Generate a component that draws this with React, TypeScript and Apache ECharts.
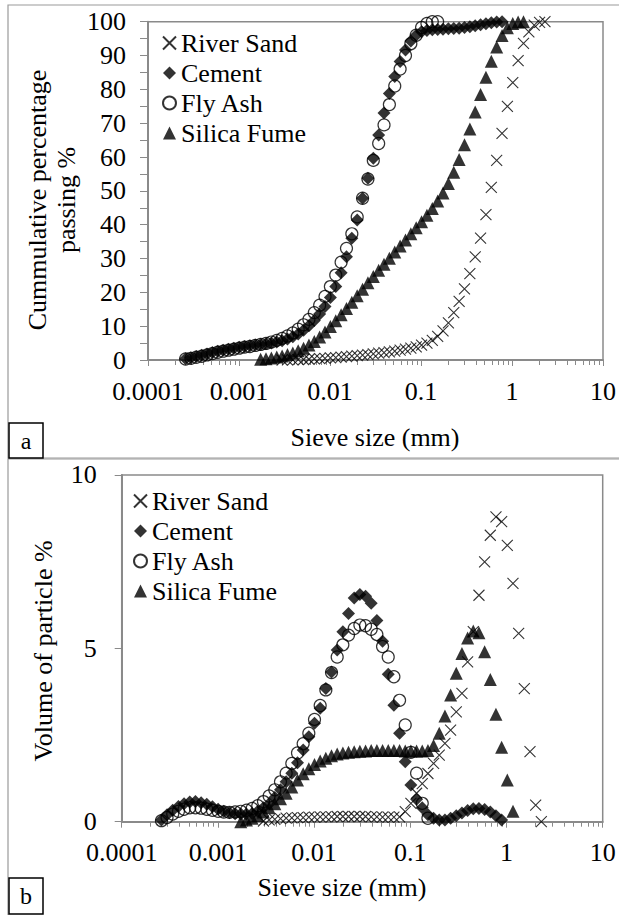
import React, { useEffect, useRef } from "react";
import * as echarts from "echarts";

// Particle sizes (mm) of the analyser channels
const SIZES_MM = [
  0.000259, 0.000296, 0.000339, 0.000389, 0.000445, 0.00051, 0.000584, 0.000669, 0.000766, 0.000877,
  0.001005, 0.001151, 0.001318, 0.00151, 0.001729, 0.001981, 0.002269, 0.002599, 0.002976, 0.003409,
  0.003905, 0.004472, 0.005122, 0.005867, 0.00672, 0.007697, 0.008816, 0.010097, 0.011565, 0.013246,
  0.015172, 0.017377, 0.019904, 0.022797, 0.026111, 0.029907, 0.034255, 0.039234, 0.044938, 0.051471,
  0.058953, 0.067523, 0.077339, 0.088583, 0.10146, 0.11621, 0.133103, 0.152453, 0.174616, 0.2,
  0.229075, 0.262376, 0.300518, 0.344206, 0.394244, 0.451556, 0.5172, 0.592387, 0.678504, 0.777141,
  0.890116, 1.0195, 1.1677, 1.3375, 1.5319, 1.7547, 2.0096, 2.3018,
];

const X_TICK_LABELS = ["0.0001", "0.001", "0.01", "0.1", "1", "10"];
const SERIES_NAMES = ["River Sand", "Cement", "Fly Ash", "Silica Fume"];

// ---- Panel a: cumulative percentage passing (%) ----
const SAND_CUM_START = 18;
const sandCumulative = [
  0, 0.01, 0.03, 0.08, 0.15, 0.22, 0.3, 0.4, 0.5, 0.6,
  0.7, 0.85, 1.0, 1.15, 1.3, 1.45, 1.6, 1.8, 2.0, 2.2,
  2.4, 2.6, 2.9, 3.2, 3.5, 3.9, 4.4, 5.0, 5.8, 7.0,
  8.6, 11.0, 14.0, 17.3, 21.0, 25.5, 30.5, 36.0, 43.0, 51.0,
  59.0, 67.0, 75.0, 82.0, 88.5, 93.6, 97.0, 99.0, 99.8, 100,
];
const CEMENT_CUM_START = 0;
const cementCumulative = [
  0.4, 0.7, 1.0, 1.4, 1.8, 2.2, 2.6, 2.9, 3.2, 3.5,
  3.8, 4.0, 4.2, 4.4, 4.6, 4.8, 5.0, 5.3, 5.7, 6.2,
  6.9, 7.7, 8.8, 10.1, 11.7, 13.6, 15.8, 18.5, 21.7, 25.8,
  30.5, 36.0, 41.4, 47.8, 53.7, 59.6, 66.5, 73.0, 78.8, 83.8,
  88.2, 91.6, 94.3, 96.0, 97.0, 97.4, 97.6, 97.7, 97.8, 97.9,
  98.0, 98.1, 98.3, 98.5, 98.8, 99.1, 99.4, 99.7, 99.9, 100,
];
const FLYASH_CUM_START = 0;
const flyAshCumulative = [
  0.3, 0.5, 0.8, 1.1, 1.5, 1.9, 2.3, 2.6, 2.9, 3.2,
  3.5, 3.8, 4.0, 4.3, 4.6, 4.9, 5.3, 5.8, 6.4, 7.1,
  8.0, 9.1, 10.4, 12.0, 14.0, 16.2, 18.8, 21.7, 25.1, 28.9,
  33.0, 37.3, 42.3, 47.8, 53.5, 59.0, 64.0, 69.5, 75.5, 81.0,
  86.0, 90.0, 93.5, 96.0, 98.3, 99.5, 100, 100,
];
const SILICA_CUM_START = 14;
const silicaCumulative = [
  0.2, 0.4, 0.6, 0.9, 1.2, 1.6, 2.1, 2.7, 3.5, 4.4,
  5.5, 6.8, 8.3, 9.9, 11.6, 13.4, 15.2, 17.1, 19.0, 20.9,
  22.8, 24.7, 26.5, 28.3, 30.1, 31.9, 33.7, 35.5, 37.3, 39.1,
  40.9, 42.8, 44.8, 47.0, 49.4, 52.2, 55.5, 59.3, 63.6, 68.3,
  73.3, 78.5, 83.6, 88.3, 92.5, 95.9, 98.2, 99.5, 99.9, 100,
];

// ---- Panel b: volume of particle (%) ----
const SAND_VOL_START = 18;
const sandVolume = [
  0.02, 0.05, 0.07, 0.09, 0.1, 0.11, 0.12, 0.12, 0.13, 0.13,
  0.14, 0.14, 0.14, 0.15, 0.15, 0.15, 0.15, 0.15, 0.15, 0.14,
  0.14, 0.13, 0.13, 0.13, 0.14, 0.29, 0.53, 0.82, 1.1, 1.39,
  1.68, 1.92, 2.26, 2.64, 3.17, 3.7, 4.61, 5.48, 6.53, 7.49,
  8.26, 8.79, 8.65, 7.97, 6.87, 5.43, 3.84, 2.02, 0.48, 0,
];
const CEMENT_VOL_START = 0;
const cementVolume = [
  0.05, 0.2, 0.33, 0.44, 0.52, 0.57, 0.58, 0.55, 0.5, 0.43,
  0.36, 0.3, 0.26, 0.23, 0.22, 0.22, 0.24, 0.3, 0.4, 0.52,
  0.7, 0.92, 1.15, 1.4, 1.7, 2.07, 2.45, 2.84, 3.27, 3.84,
  4.32, 4.95, 5.48, 6.0, 6.45, 6.55, 6.5, 6.3, 5.8, 5.2,
  4.25, 3.36, 2.55, 1.73, 1.06, 0.65, 0.4, 0.2, 0.1, 0.05,
  0.05, 0.1, 0.17, 0.25, 0.32, 0.37, 0.38, 0.35, 0.28, 0.17, 0.05,
];
const FLYASH_VOL_START = 0;
const flyAshVolume = [
  0.03, 0.12, 0.22, 0.3, 0.36, 0.4, 0.4, 0.39, 0.36, 0.33,
  0.3, 0.28, 0.27, 0.28, 0.3, 0.33, 0.38, 0.46, 0.58, 0.74,
  0.92, 1.15, 1.4, 1.68, 1.98, 2.25, 2.55, 2.95, 3.35, 3.8,
  4.3, 4.75, 5.1, 5.38, 5.57, 5.67, 5.65, 5.55, 5.4, 5.05,
  4.75, 4.18, 3.5, 2.79, 2.0, 1.4, 0.53, 0.1,
];
const SILICA_VOL_START = 14;
const silicaVolume = [
  0, 0.05, 0.1, 0.18, 0.28, 0.4, 0.52, 0.66, 0.82, 1.0,
  1.2, 1.38, 1.53, 1.65, 1.75, 1.83, 1.9, 1.95, 1.98, 2.0,
  2.02, 2.03, 2.04, 2.05, 2.05, 2.05, 2.05, 2.05, 2.05, 2.04,
  2.04, 2.04, 2.04, 2.05, 2.2, 2.55, 3.05, 3.65, 4.28, 4.85,
  5.3, 5.5, 5.45, 4.9, 4.1, 3.1, 2.15, 1.2, 0.3,
];

const FONT = "Liberation Serif";
const AXIS_GREY = "#8a8a8a";

function pairs(values: number[], start: number) {
  return values.map((v, k) => [SIZES_MM[start + k], v]);
}

const MARKERS: Record<string, any> = {
  "River Sand": {
    symbol: "path://M0,0L10,10M10,0L0,10",
    symbolSize: 11,
    itemStyle: { color: "rgba(0,0,0,0)", borderColor: "#000", borderWidth: 1.1 },
  },
  Cement: {
    symbol: "diamond",
    symbolSize: 13,
    itemStyle: { color: "#000", borderColor: "#000", borderWidth: 0 },
  },
  "Fly Ash": {
    symbol: "circle",
    symbolSize: 12,
    itemStyle: { color: "rgba(0,0,0,0)", borderColor: "#000", borderWidth: 1.2 },
  },
  "Silica Fume": {
    symbol: "triangle",
    symbolSize: 13,
    itemStyle: { color: "#000", borderColor: "#000", borderWidth: 0 },
  },
};

function scatter(name: string, idx: number, data: number[][]) {
  const m = MARKERS[name];
  return {
    name,
    type: "scatter",
    xAxisIndex: idx,
    yAxisIndex: idx,
    data,
    symbol: m.symbol,
    symbolSize: m.symbolSize,
    itemStyle: m.itemStyle,
    clip: false,
    emphasis: { disabled: true },
  };
}

function xAxisFor(gridIndex: number) {
  return {
    type: "log",
    logBase: 10,
    gridIndex,
    min: 0.0001,
    max: 10,
    axisLine: { show: true, onZero: false, lineStyle: { color: AXIS_GREY, width: 2 } },
    axisTick: { show: true, inside: false, length: 6, lineStyle: { color: AXIS_GREY, width: 1 } },
    minorTick: { show: true, splitNumber: 9, length: 5, lineStyle: { color: AXIS_GREY, width: 1 } },
    splitLine: { show: false },
    minorSplitLine: { show: false },
    axisLabel: {
      margin: 18,
      color: "#000",
      fontFamily: FONT,
      fontSize: 26,
      formatter: (v: number) => X_TICK_LABELS[Math.round(Math.log10(v)) + 4] ?? "",
    },
  };
}

export default function App() {
  const ref = useRef<HTMLDivElement>(null);

  useEffect(() => {
    if (!ref.current) return;
    const chart = echarts.init(ref.current, undefined, { renderer: "svg" });

    const legendBase = {
      orient: "vertical",
      data: SERIES_NAMES,
      itemWidth: 13,
      itemHeight: 13,
      itemGap: 0,
      selectedMode: false,
      textStyle: { fontFamily: FONT, fontSize: 26, color: "#000", lineHeight: 30 },
    };

    const text = (x: number, y: number, s: string, size: number, rot = 0) => ({
      type: "text",
      x,
      y,
      rotation: rot,
      silent: true,
      style: { text: s, fontFamily: FONT, fontSize: size, fill: "#000", textAlign: "center", textVerticalAlign: "middle" },
    });

    const option: any = {
      animation: false,
      backgroundColor: "#fff",
      grid: [
        { left: 148, top: 21.7, width: 455, height: 338.3, show: true, borderColor: AXIS_GREY, borderWidth: 1.5, backgroundColor: "transparent" },
        { left: 121.7, top: 474.9, width: 481, height: 346.8, show: true, borderColor: AXIS_GREY, borderWidth: 1.5, backgroundColor: "transparent" },
      ],
      legend: [
        { ...legendBase, left: 157, top: 23 },
        { ...legendBase, left: 128, top: 481 },
      ],
      xAxis: [xAxisFor(0), xAxisFor(1)],
      yAxis: [
        {
          type: "value",
          gridIndex: 0,
          min: 0,
          max: 100,
          interval: 10,
          axisLine: { show: true, lineStyle: { color: AXIS_GREY, width: 2 } },
          axisTick: { show: true, length: 8, lineStyle: { color: AXIS_GREY } },
          minorTick: { show: true, splitNumber: 2, length: 8, lineStyle: { color: AXIS_GREY } },
          splitLine: { show: false },
          axisLabel: { margin: 22, color: "#000", fontFamily: FONT, fontSize: 26 },
        },
        {
          type: "value",
          gridIndex: 1,
          min: 0,
          max: 10,
          interval: 5,
          axisLine: { show: true, lineStyle: { color: AXIS_GREY, width: 2 } },
          axisTick: { show: true, length: 7, lineStyle: { color: AXIS_GREY } },
          splitLine: { show: false },
          axisLabel: { margin: 25, color: "#000", fontFamily: FONT, fontSize: 26 },
        },
      ],
      graphic: [
        // panel frames
        { type: "rect", silent: true, z: -1, shape: { x: 8, y: 5, width: 612, height: 453 }, style: { fill: "none", stroke: "#9a9a9a", lineWidth: 1.2 } },
        { type: "rect", silent: true, z: -1, shape: { x: 8, y: 459, width: 612, height: 460 }, style: { fill: "none", stroke: "#9a9a9a", lineWidth: 1.2 } },
        // panel letters
        { type: "rect", silent: true, shape: { x: 9, y: 423, width: 34, height: 35 }, style: { fill: "#fff", stroke: "#000", lineWidth: 1.5 } },
        text(26, 441, "a", 24),
        { type: "rect", silent: true, shape: { x: 9, y: 878, width: 34, height: 36 }, style: { fill: "#fff", stroke: "#000", lineWidth: 1.5 } },
        text(26, 896, "b", 24),
        // axis titles
        text(37, 200, "Cummulative percentage", 26, Math.PI / 2),
        text(66, 200, "passing %", 26, Math.PI / 2),
        text(375, 437, "Sieve size (mm)", 26),
        text(43, 651, "Volume of particle %", 26, Math.PI / 2),
        text(342, 887, "Sieve size (mm)", 26),
      ],
      series: [
        scatter("River Sand", 0, pairs(sandCumulative, SAND_CUM_START)),
        scatter("Cement", 0, pairs(cementCumulative, CEMENT_CUM_START)),
        scatter("Fly Ash", 0, pairs(flyAshCumulative, FLYASH_CUM_START)),
        scatter("Silica Fume", 0, pairs(silicaCumulative, SILICA_CUM_START)),
        scatter("River Sand", 1, pairs(sandVolume, SAND_VOL_START)),
        scatter("Cement", 1, pairs(cementVolume, CEMENT_VOL_START)),
        scatter("Fly Ash", 1, pairs(flyAshVolume, FLYASH_VOL_START)),
        scatter("Silica Fume", 1, pairs(silicaVolume, SILICA_VOL_START)),
      ],
    };

    chart.setOption(option);
    return () => chart.dispose();
  }, []);

  return (
    <div
      ref={ref}
      style={{ position: "fixed", left: 0, top: 0, width: 619, height: 915, background: "#fff" }}
    />
  );
}
